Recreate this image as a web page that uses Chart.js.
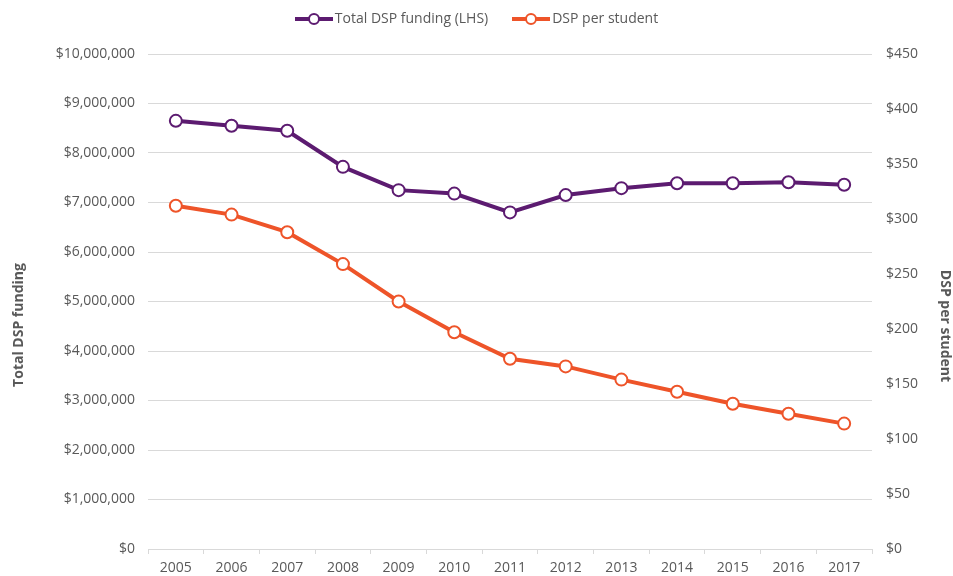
<!DOCTYPE html>
<html>
<head>
<meta charset="utf-8">
<script src="https://cdn.jsdelivr.net/npm/chart.js@4"></script>
<style>
  body { margin: 0; background: #fff; }
  #wrap { position: relative; width: 953px; height: 576px; }
  #legend { position: absolute; top: 8px; left: 0; width: 953px; text-align: center; font-family: "Open Sans", sans-serif; font-size: 14px; color: #595959; }
  .item { display: inline-block; margin: 0 12px; }
  .swatch { display: inline-block; position: relative; width: 38px; height: 4px; vertical-align: middle; margin-right: 2px; }
  .swatch i { position: absolute; left: 13px; top: -4px; width: 12px; height: 12px; border-radius: 50%; background: #fff; border: 2px solid; box-sizing: border-box; }
</style>
</head>
<body>
<div id="wrap">
  <canvas id="chart" width="953" height="576"></canvas>
  <div id="legend"></div>
</div>
<script>
let years = ['2005', '2006', '2007', '2008', '2009', '2010', '2011', '2012', '2013', '2014', '2015', '2016', '2017'];
let totalFunding = [8650000, 8550000, 8450000, 7720000, 7250000, 7180000, 6800000, 7150000, 7290000, 7390000, 7390000, 7410000, 7360000];
let perStudent = [312, 304, 288, 259, 225, 197, 173, 166, 154, 143, 132, 123, 114];
let leftTitle = 'Total DSP funding';
let rightTitle = 'DSP per student';

let purple = '#5c1b70';
let orange = '#ee5429';
let textColor = '#595959';
let fontName = '"Open Sans", sans-serif';

// legend, line with circle like the original
let legendItems = [['Total DSP funding (LHS)', purple], ['DSP per student', orange]];
let legendHtml = '';
for (let i = 0; i < legendItems.length; i++) {
  legendHtml += `<span class="item"><span class="swatch" style="background:${legendItems[i][1]}"><i style="border-color:${legendItems[i][1]}"></i></span>${legendItems[i][0]}</span>`;
}
document.getElementById('legend').innerHTML = legendHtml;

function money(v) {
  return '$' + Number(v).toLocaleString('en-US');
}

// axis titles sit a bit below the middle in the original, so draw them by hand
let axisTitles = {
  id: 'axisTitles',
  afterDraw(chart) {
    let ctx = chart.ctx;
    ctx.save();
    ctx.fillStyle = textColor;
    ctx.font = `bold 14px ${fontName}`;
    ctx.textAlign = 'center';
    ctx.textBaseline = 'middle';
    ctx.translate(19, 325);
    ctx.rotate(-Math.PI / 2);
    ctx.fillText(leftTitle, 0, 0);
    ctx.restore();
    ctx.save();
    ctx.fillStyle = textColor;
    ctx.font = `bold 14px ${fontName}`;
    ctx.textAlign = 'center';
    ctx.textBaseline = 'middle';
    ctx.translate(945, 326);
    ctx.rotate(Math.PI / 2);
    ctx.fillText(rightTitle, 0, 0);
    ctx.restore();
  }
};

new Chart(document.getElementById('chart'), {
  type: 'line',
  data: {
    labels: years,
    datasets: [{
      label: 'Total DSP funding (LHS)',
      data: totalFunding,
      yAxisID: 'y',
      borderColor: purple,
      borderWidth: 4,
      pointRadius: 6,
      pointBorderWidth: 2,
      pointBackgroundColor: '#fff',
      pointBorderColor: purple,
      tension: 0
    }, {
      label: 'DSP per student',
      data: perStudent,
      yAxisID: 'y1',
      borderColor: orange,
      borderWidth: 4,
      pointRadius: 6,
      pointBorderWidth: 2,
      pointBackgroundColor: '#fff',
      pointBorderColor: orange,
      tension: 0
    }]
  },
  plugins: [axisTitles],
  options: {
    responsive: false,
    animation: false,
    layout: { padding: { top: 54, left: 0, right: 0, bottom: 0 } },
    plugins: {
      legend: { display: false },
      tooltip: { enabled: false }
    },
    scales: {
      x: {
        offset: true,
        grid: { display: true, drawOnChartArea: false, offset: true, color: '#d9d9d9', tickLength: 5 },
        border: { display: true, color: '#d9d9d9' },
        ticks: { color: textColor, font: { family: fontName, size: 14 }, padding: 6, maxRotation: 0 },
        afterFit: function(scale) { scale.height = 27; }
      },
      y: {
        position: 'left',
        min: 0,
        max: 10000000,
        ticks: { stepSize: 1000000, color: textColor, font: { family: fontName, size: 14 }, padding: 13, callback: money },
        grid: { color: '#d9d9d9', drawTicks: false, lineWidth: 1 },
        border: { display: false },
        afterFit: function(scale) { scale.width = 148; }
      },
      y1: {
        position: 'right',
        min: 0,
        max: 450,
        ticks: { stepSize: 50, color: textColor, font: { family: fontName, size: 14 }, padding: 14, callback: money },
        grid: { drawOnChartArea: false, drawTicks: false },
        border: { display: false },
        afterFit: function(scale) { scale.width = 81; }
      }
    }
  }
});
</script>
</body>
</html>
